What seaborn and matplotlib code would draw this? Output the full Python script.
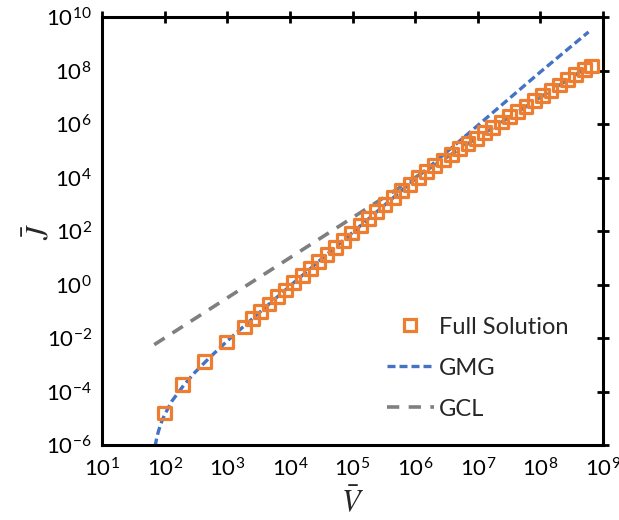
import numpy as np
import pandas as pd
import seaborn as sns
import matplotlib
matplotlib.use("Agg")
import matplotlib.pyplot as plt
from matplotlib.lines import Line2D

# full numerical solution (squares)
v_full = [1.0e2, 1.9e2, 4.3e2, 9.8e2, 1.9e3,
          2.51e3, 3.41e3, 4.62e3, 6.27e3, 8.51e3,
          1.155e4, 1.567e4, 2.126e4, 2.884e4, 3.913e4, 5.309e4, 7.20e4, 9.77e4,
          1.326e5, 1.799e5, 2.44e5, 3.311e5, 4.49e5, 6.10e5, 8.27e5,
          1.122e6, 1.522e6, 2.065e6, 2.80e6, 3.80e6, 5.16e6, 7.00e6, 9.50e6,
          1.288e7, 1.748e7, 2.371e7, 3.217e7, 4.365e7, 5.92e7, 8.04e7,
          1.09e8, 1.479e8, 2.01e8, 2.72e8, 3.69e8, 5.01e8, 6.6e8]
j_full = [1.6e-5, 1.9e-4, 1.3e-3, 7.2e-3, 2.6e-2,
          5.4e-2, 0.10, 0.19, 0.35, 0.63,
          1.2, 2.2, 4.0, 7.4, 13.6, 25, 46, 85,
          157, 290, 530, 980, 1.8e3, 3.3e3, 5.6e3,
          9.8e3, 1.7e4, 2.8e4, 4.6e4, 7.4e4, 1.2e5, 1.9e5, 3.0e5,
          4.8e5, 7.6e5, 1.2e6, 1.9e6, 3.0e6, 4.7e6, 7.4e6,
          1.15e7, 1.8e7, 2.9e7, 4.6e7, 7.2e7, 1.1e8, 1.5e8]

# GMG curve (blue short dashes)
v_gmg = [70, 75, 80, 90, 100, 130, 200, 300, 500, 1e3, 3e3,
         1e4, 1e5, 1e6, 1e7, 1e8, 5.9e8]
j_gmg = [8.9e-7, 2.0e-6, 3.5e-6, 7.9e-6, 1.4e-5, 4.4e-5, 1.7e-4, 5.1e-4,
         1.7e-3, 7.9e-3, 7.7e-2, 0.89, 89, 8.9e3, 8.9e5, 8.9e7, 2.8e9]

# GCL line (gray long dashes)
v_gcl = [68, 5.8e8]
j_gcl = [5.7e-3, 1.4e8]

orange = "#ED7D31"
blue = "#4472C4"
gray = "#7F7F7F"

sns.set_theme(style="white")
plt.rcParams['font.family'] = ['Lato', 'DejaVu Sans']
plt.rcParams['mathtext.fontset'] = 'custom'
plt.rcParams['mathtext.rm'] = 'Lato'
plt.rcParams['mathtext.it'] = 'Lato:italic'
plt.rcParams['mathtext.bf'] = 'Lato:bold'

fig = plt.figure(figsize=(6.19, 5.20), dpi=100)
ax = fig.add_axes([0.165, 0.144, 0.809, 0.823])

gmg_dash = (0, (2.4, 1.2))
gcl_dash = (0, (3.4, 2.6))

sns.lineplot(x=v_gmg, y=j_gmg, ax=ax, color=blue, lw=2.4, sort=False,
             linestyle=gmg_dash)
sns.lineplot(x=v_gcl, y=j_gcl, ax=ax, color=gray, lw=2.6, sort=False,
             linestyle=gcl_dash)
sns.scatterplot(x=v_full, y=j_full, ax=ax, marker='s', s=85,
                facecolors='none', edgecolor=orange, linewidth=2.3, zorder=3)

ax.set(xscale='log', yscale='log')
ax.set_xlim(1e1, 1e9)
ax.set_ylim(1e-6, 1e10)
ax.set_xticks([10.0 ** k for k in range(1, 10)])
ax.set_yticks([10.0 ** k for k in range(-6, 11, 2)])
ax.minorticks_off()

for s in ax.spines.values():
    s.set_linewidth(2.2)
    s.set_color('black')
ax.tick_params(which='major', direction='inout', length=9, width=2,
               top=True, right=True, labelsize=16, colors='black')
ax.tick_params(axis='x', pad=4)
ax.tick_params(axis='y', pad=3)

ax.set_xlabel(r'$\bar{V}$', fontsize=22, math_fontfamily='stix', labelpad=4)
ax.set_ylabel(r'$\bar{J}$', fontsize=22, math_fontfamily='stix', labelpad=-5)

handles = [
    Line2D([], [], marker='s', ls='none', mfc='none', mec=orange, mew=2.3, ms=9),
    Line2D([], [], color=blue, lw=2.4, linestyle=gmg_dash),
    Line2D([], [], color=gray, lw=2.6, linestyle=gcl_dash),
]
ax.legend(handles, ['Full Solution', 'GMG', 'GCL'], loc='upper left',
          bbox_to_anchor=(0.545, 0.328), frameon=False, fontsize=17,
          handlelength=2.0, handletextpad=0.2, labelspacing=0.85, borderpad=0)

fig.savefig('out.png', dpi=100)
